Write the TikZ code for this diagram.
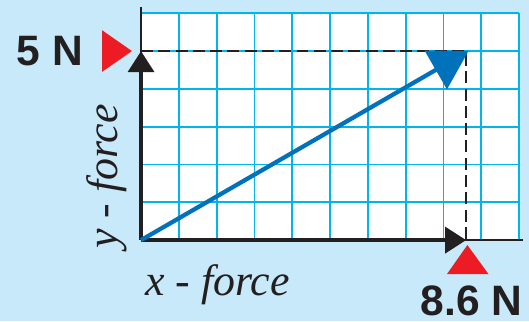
\documentclass[tikz,border=0pt]{standalone}
\usepackage{fontspec}
\setmainfont{Liberation Serif}
\setsansfont{Liberation Sans}
\usepackage{tikz}
\usetikzlibrary{arrows.meta}
\usepackage{xcolor}
\definecolor{bgblue}{RGB}{199,233,249}
\definecolor{gridcyan}{RGB}{0,180,236}
\definecolor{vecblue}{RGB}{0,114,188}
\definecolor{markred}{RGB}{237,28,36}
\definecolor{ink}{RGB}{35,31,32}

\begin{document}
\begin{tikzpicture}[
  axislabel/.style={font=\fontsize{33}{39}\selectfont\itshape, text=ink, inner sep=0pt},
  valuelabel/.style={font=\fontsize{32}{38}\selectfont\sffamily\bfseries, text=ink, inner sep=0pt},
  gridline/.style={draw=gridcyan, line width=1.3pt},
  axisline/.style={draw=ink, line width=1.5pt},
  comp/.style={-{Triangle[length=5.6mm,width=6.8mm]}, draw=ink, line width=3.5pt},
  guide/.style={draw=ink, line width=1.6pt, dash pattern=on 9pt off 4pt},
  resultant/.style={-{Triangle[length=10mm,width=11.6mm]}, draw=vecblue, line width=3.2pt},
  marker/.style={fill=markred}
]
\fill[bgblue] (-3.73,-2.14) rectangle (10.26,6.35);
\useasboundingbox (-3.73,-2.14) rectangle (10.26,6.35);
\fill[white] (0,0) rectangle (10,6);
\draw[gridline] (0,0) grid (10,6);

\coordinate (O) at (0,0);
\coordinate (xend) at (10.1,0);
\coordinate (yend) at (0,6.16);
\coordinate (Fx) at (8.6,0);
\coordinate (Fy) at (0,5);
\coordinate (F) at (8.66,5);

\draw[axisline] (O) -- (xend);
\draw[axisline] (O) -- (yend);
\draw[guide] (Fy) -| (Fx);
\draw[comp] (O) -- (Fx);
\draw[comp] (O) -- (Fy);
\draw[resultant] (O) -- (F);

\fill[marker] (-0.24,5) -- (-1.03,5.55) -- (-1.03,4.45) -- cycle;
\fill[marker] (8.63,-0.13) -- (9.19,-0.9) -- (8.09,-0.9) -- cycle;

\node[valuelabel] (fylab) at (-2.41,5) {5 N};
\node[valuelabel] (fxlab) at (8.74,-1.6) {8.6 N};
\node[axislabel, anchor=base] (xlab) at (2.02,-1.455) {x - force};
\node[axislabel, anchor=base, rotate=90] (ylab) at (-0.635,1.68) {y - force};
\end{tikzpicture}
\end{document}
